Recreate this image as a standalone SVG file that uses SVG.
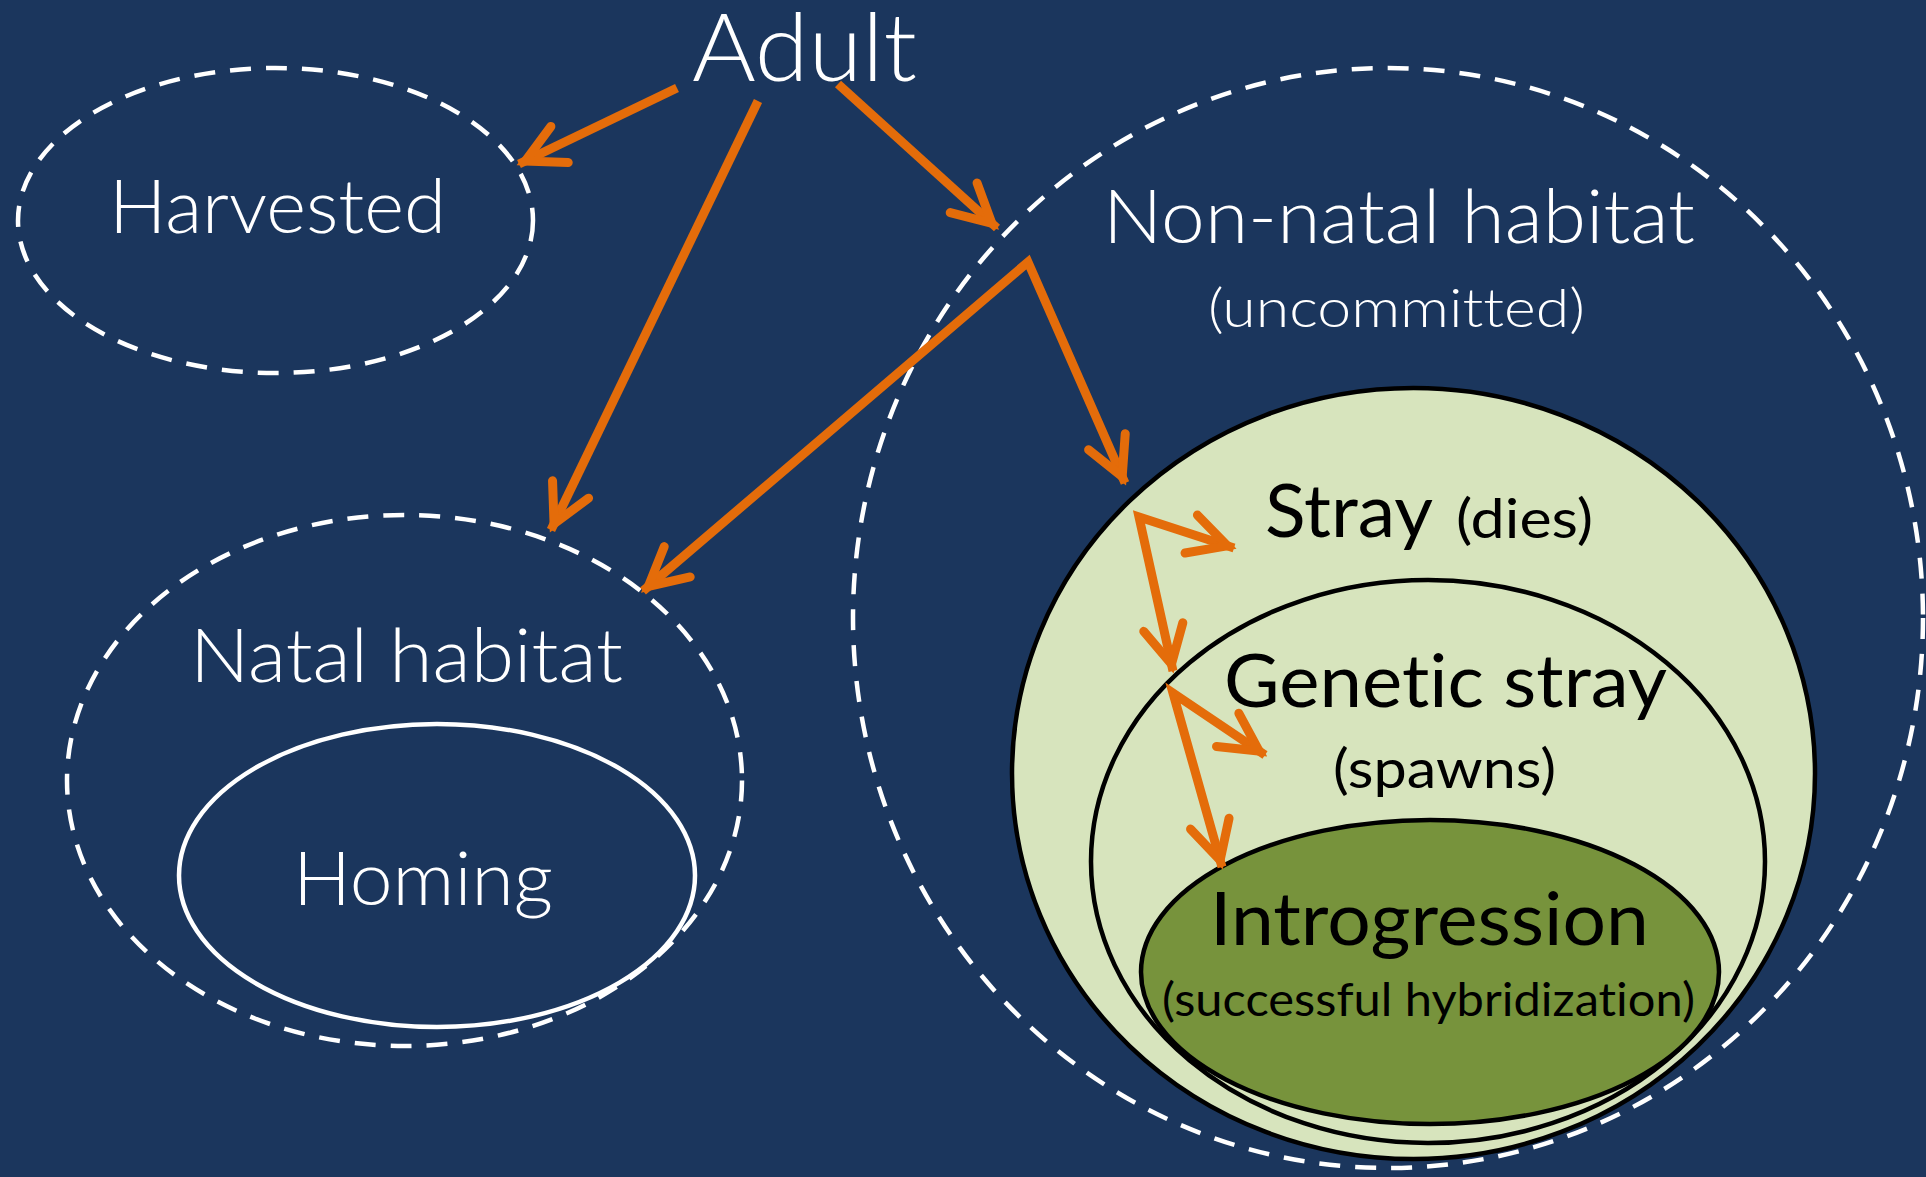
<svg xmlns="http://www.w3.org/2000/svg" width="1926" height="1177" viewBox="0 0 1926 1177">
<style>
.bg{fill:#1B365D}
.dash{fill:none;stroke:#FFFFFF;stroke-width:4.5;stroke-dasharray:21 15}
text{font-variant-ligatures:none;font-feature-settings:"liga" 0,"clig" 0}
.wt{fill:#FFFFFF;font-family:Lato,"Liberation Sans",sans-serif;font-weight:300}
.bk{fill:#000000;font-family:Lato,"Liberation Sans",sans-serif;font-weight:400}
.big{font-size:74px}
.sm{font-size:54px}
.xs{font-size:47px}
.arr{fill:none;stroke:#E46C0A;stroke-width:9;stroke-linejoin:miter;marker-end:url(#ah)}
.arr2{marker-start:url(#ah)}
</style>
<defs>
<marker id="ah" markerUnits="userSpaceOnUse" viewBox="-56 -32 64 64" markerWidth="64" markerHeight="64" refX="0" refY="0" orient="auto-start-reverse" overflow="visible">
<path d="M-45,-20 L-7,0 L-45,20" fill="none" stroke="#E46C0A" stroke-width="9" stroke-linecap="round" stroke-linejoin="miter"/>
</marker>
</defs>
<rect class="bg" x="0" y="0" width="1926" height="1177"/>

<g id="nonnatal">
<ellipse class="dash" cx="1388" cy="618" rx="535" ry="550"/>
<text class="wt big" x="1103" y="243" textLength="592" lengthAdjust="spacingAndGlyphs">Non-natal habitat</text>
<text class="wt sm" x="1208" y="327" textLength="377" lengthAdjust="spacingAndGlyphs">(uncommitted)</text>
</g>

<g id="stray">
<ellipse cx="1413.5" cy="773.5" rx="401.5" ry="385.5" fill="#D7E4BD" stroke="#000" stroke-width="4.5"/>
<text class="bk big" x="1265" y="537" textLength="168" lengthAdjust="spacingAndGlyphs">Stray</text>
<text class="bk sm" x="1456" y="538" textLength="137" lengthAdjust="spacingAndGlyphs">(dies)</text>
</g>

<g id="genetic">
<ellipse cx="1428" cy="861.5" rx="337" ry="281.5" fill="#D7E4BD" stroke="#000" stroke-width="4.5"/>
<text class="bk big" x="1224" y="707" textLength="443" lengthAdjust="spacingAndGlyphs">Genetic stray</text>
<text class="bk sm" x="1333" y="788" textLength="223" lengthAdjust="spacingAndGlyphs">(spawns)</text>
</g>

<g id="introgression">
<ellipse cx="1430" cy="972" rx="289" ry="152" fill="#77933C" stroke="#000" stroke-width="4.5"/>
<text class="bk big" x="1210" y="945" textLength="439" lengthAdjust="spacingAndGlyphs">Introgression</text>
<text class="bk xs" x="1162" y="1016" textLength="533" lengthAdjust="spacingAndGlyphs">(successful hybridization)</text>
</g>

<g id="harvested">
<ellipse class="dash" cx="275.5" cy="220.5" rx="257.5" ry="152.5"/>
<text class="wt big" x="109" y="233" textLength="337" lengthAdjust="spacingAndGlyphs">Harvested</text>
</g>

<g id="natal">
<ellipse class="dash" cx="404.5" cy="780.5" rx="337.5" ry="265.5"/>
<text class="wt big" x="190" y="682" textLength="433" lengthAdjust="spacingAndGlyphs">Natal habitat</text>
</g>

<g id="homing">
<ellipse cx="437" cy="875.5" rx="258" ry="151.5" fill="none" stroke="#FFFFFF" stroke-width="4.5"/>
<text class="wt big" x="293" y="905" textLength="260" lengthAdjust="spacingAndGlyphs">Homing</text>
</g>

<g id="adult">
<text class="wt" font-size="95" x="692" y="81" textLength="225" lengthAdjust="spacingAndGlyphs">Adult</text>
</g>

<g id="connectors">
<path class="arr" d="M677,88 L519,164"/>
<path class="arr" d="M758,101 L551,530"/>
<path class="arr" d="M838,84 L997,228"/>
<path class="arr arr2" d="M643,591 L1028,262 L1125,483"/>
<path class="arr arr2" d="M1234,548 L1139,517 L1173,671"/>
<path class="arr arr2" d="M1265,755 L1173,693 L1222,867"/>
</g>
</svg>
